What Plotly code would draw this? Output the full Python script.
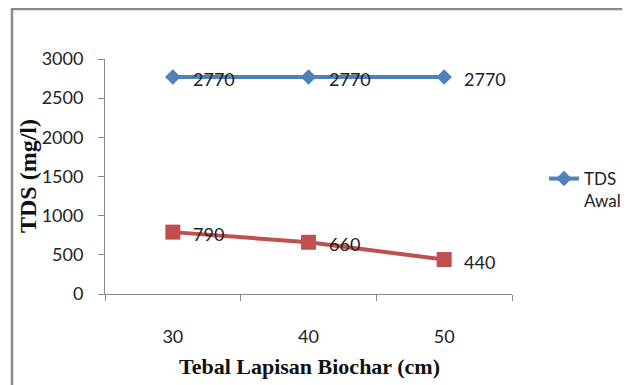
import plotly.graph_objects as go

categories = ["30", "40", "50"]
tds_awal = [2770, 2770, 2770]
tds_akhir = [790, 660, 440]
y_ticks = [0, 500, 1000, 1500, 2000, 2500, 3000]
x_title = "Tebal Lapisan Biochar (cm)"
y_title = "TDS (mg/l)"

BLUE = "#4F81BD"
RED = "#C0504D"
AX = "#868686"
TICKFONT = dict(family="Lato", size=18, color="#222222")
LEGFONT = dict(family="Lato", size=17, color="#222222")
TITLEFONT = dict(family="Liberation Serif", color="#111111")

fig = go.Figure()
fig.add_trace(go.Scatter(
    x=categories, y=tds_awal, name="TDS<br>Awal",
    mode="lines+markers",
    line=dict(color=BLUE, width=4),
    marker=dict(symbol="diamond", size=12, color=BLUE),
    cliponaxis=False,
))
fig.add_trace(go.Scatter(
    x=categories, y=tds_akhir, name="TDS Akhir",
    mode="lines+markers",
    line=dict(color=RED, width=4),
    marker=dict(symbol="square", size=15, color=RED),
    showlegend=False, cliponaxis=False,
))

for series in (tds_awal, tds_akhir):
    for i, v in enumerate(series):
        fig.add_annotation(x=i, y=v, xref="x", yref="y", text=str(v),
                           showarrow=False, xanchor="left", yanchor="middle",
                           xshift=18, yshift=-2, font=TICKFONT)

# page body has an 8px margin; positions below are screen px minus 8
OFF = 8
W, H = 630 - OFF, 385 - OFF
L, R, T, B = 105 - OFF, 512 - OFF, 59 - OFF, 294 - OFF


def px_x(p):
    return (p - OFF - L) / (R - L)


def px_y(p):
    return (B - (p - OFF)) / (B - T)


fig.add_shape(
    type="path", xref="paper", yref="paper",
    path=f"M {px_x(12)} {px_y(420)} L {px_x(12)} {px_y(9)} L {px_x(700)} {px_y(9)}",
    line=dict(color="#8a8a8a", width=2.5),
)

fig.add_annotation(x=px_x(309), y=px_y(366), xref="paper", yref="paper",
                   text=f"<b>{x_title}</b>", showarrow=False,
                   xanchor="center", yanchor="middle",
                   font=dict(size=22, **TITLEFONT))
fig.add_annotation(x=px_x(28), y=px_y(176), xref="paper", yref="paper",
                   text=f"<b>{y_title}</b>", showarrow=False, textangle=-90,
                   xanchor="center", yanchor="middle",
                   font=dict(size=24, **TITLEFONT))

fig.update_layout(
    width=W, height=H,
    margin=dict(l=L, r=W - R, t=T, b=H - B, autoexpand=False),
    paper_bgcolor="white", plot_bgcolor="white",
    showlegend=True,
    legend=dict(x=(544 - OFF) / W, xref="container",
                y=(H - (190 - OFF)) / H, yref="container",
                yanchor="middle", xanchor="left", valign="top",
                font=LEGFONT, bgcolor="rgba(0,0,0,0)"),
    xaxis=dict(
        type="category", range=[-0.5, 2.5], tickson="boundaries",
        showline=True, linecolor=AX, linewidth=1,
        ticks="outside", ticklen=6, tickcolor=AX,
        showgrid=False, zeroline=False, tickfont=TICKFONT,
        ticklabelstandoff=26, automargin=False,
    ),
    yaxis=dict(
        range=[0, 3000], tickvals=y_ticks,
        showline=True, linecolor=AX, linewidth=1,
        ticks="outside", ticklen=6, tickcolor=AX,
        showgrid=False, zeroline=False, tickfont=TICKFONT,
        ticklabelstandoff=11, automargin=False,
    ),
)

fig.write_html("out.html")
